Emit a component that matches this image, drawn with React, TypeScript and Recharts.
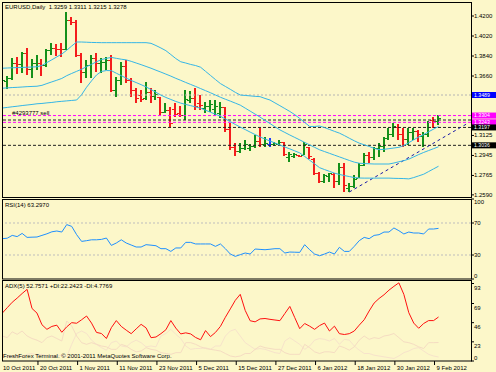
import React from 'react';
import { ComposedChart, Bar, Line, XAxis, YAxis, ReferenceLine } from 'recharts';

// EURUSD daily, 10 Oct 2011 .. 9 Feb 2012
const dates = [
  '10 Oct', '11 Oct', '12 Oct', '13 Oct', '14 Oct', '17 Oct', '18 Oct', '19 Oct', '20 Oct', '21 Oct',
  '24 Oct', '25 Oct', '26 Oct', '27 Oct', '28 Oct', '31 Oct', '1 Nov', '2 Nov', '3 Nov', '4 Nov',
  '7 Nov', '8 Nov', '9 Nov', '10 Nov', '11 Nov', '14 Nov', '15 Nov', '16 Nov', '17 Nov', '18 Nov',
  '21 Nov', '22 Nov', '23 Nov', '24 Nov', '25 Nov', '28 Nov', '29 Nov', '30 Nov', '1 Dec', '2 Dec',
  '5 Dec', '6 Dec', '7 Dec', '8 Dec', '9 Dec', '12 Dec', '13 Dec', '14 Dec', '15 Dec', '16 Dec',
  '19 Dec', '20 Dec', '21 Dec', '22 Dec', '23 Dec', '26 Dec', '27 Dec', '28 Dec', '29 Dec', '30 Dec',
  '2 Jan', '3 Jan', '4 Jan', '5 Jan', '6 Jan', '9 Jan', '10 Jan', '11 Jan', '12 Jan', '13 Jan',
  '16 Jan', '17 Jan', '18 Jan', '19 Jan', '20 Jan', '23 Jan', '24 Jan', '25 Jan', '26 Jan', '27 Jan',
  '30 Jan', '31 Jan', '1 Feb', '2 Feb', '3 Feb', '6 Feb', '7 Feb', '8 Feb', '9 Feb',
];

const axisDates = [
  '10 Oct 2011', '20 Oct 2011', '1 Nov 2011', '11 Nov 2011', '23 Nov 2011', '5 Dec 2011',
  '15 Dec 2011', '27 Dec 2011', '6 Jan 2012', '18 Jan 2012', '30 Jan 2012', '9 Feb 2012',
];

const opens = [
  1.3385, 1.3615, 1.364, 1.3775, 1.3765, 1.387, 1.372, 1.3775, 1.378, 1.376,
  1.389, 1.3915, 1.3905, 1.39, 1.416, 1.415, 1.385, 1.37, 1.376, 1.382,
  1.378, 1.379, 1.38, 1.3535, 1.362, 1.375, 1.362, 1.353, 1.349, 1.346,
  1.352, 1.348, 1.347, 1.334, 1.3355, 1.336, 1.333, 1.331, 1.3445, 1.3465,
  1.342, 1.337, 1.339, 1.336, 1.333, 1.338, 1.318, 1.3025, 1.2985, 1.3015,
  1.301, 1.303, 1.3075, 1.3045, 1.305, 1.3045, 1.305, 1.3065, 1.293, 1.294,
  1.2948, 1.295, 1.302, 1.2915, 1.2785, 1.2715, 1.276, 1.278, 1.2715, 1.284,
  1.265, 1.267, 1.274, 1.2855, 1.2945, 1.293, 1.301, 1.303, 1.31, 1.314,
  1.32, 1.314, 1.309, 1.316, 1.3165, 1.312, 1.314, 1.3265, 1.3259,
];
const highs = [
  1.3684, 1.366, 1.3822, 1.3834, 1.3879, 1.3909, 1.381, 1.3849, 1.381, 1.39,
  1.3954, 1.3945, 1.396, 1.4239, 1.4194, 1.4164, 1.3864, 1.3804, 1.3849, 1.3864,
  1.3819, 1.3829, 1.3849, 1.3648, 1.3789, 1.3804, 1.3639, 1.3549, 1.3534, 1.3609,
  1.3549, 1.3534, 1.3474, 1.3417, 1.3381, 1.3417, 1.339, 1.3534, 1.3528, 1.3549,
  1.3489, 1.3429, 1.3444, 1.3444, 1.3429, 1.3384, 1.3234, 1.3054, 1.3054, 1.3084,
  1.3048, 1.3129, 1.3189, 1.3114, 1.3099, 1.3069, 1.3084, 1.3069, 1.2979, 1.2964,
  1.2949, 1.3069, 1.3024, 1.2919, 1.2799, 1.2778, 1.279, 1.2784, 1.2874, 1.288,
  1.2694, 1.2769, 1.2874, 1.297, 1.2979, 1.3024, 1.3054, 1.3114, 1.3189, 1.3234,
  1.3228, 1.3189, 1.3189, 1.3189, 1.3174, 1.3159, 1.3255, 1.3294, 1.3311,
];
const lows = [
  1.337, 1.3545, 1.3625, 1.3678, 1.369, 1.3669, 1.3645, 1.3714, 1.366, 1.374,
  1.3845, 1.384, 1.383, 1.3894, 1.4119, 1.3834, 1.36, 1.3639, 1.3639, 1.3699,
  1.369, 1.3714, 1.3519, 1.3474, 1.3579, 1.3594, 1.3474, 1.3414, 1.3424, 1.3444,
  1.3414, 1.3444, 1.3309, 1.3327, 1.3201, 1.3291, 1.3294, 1.3264, 1.3414, 1.3354,
  1.3354, 1.3324, 1.3339, 1.3309, 1.3279, 1.3159, 1.2994, 1.294, 1.2964, 1.2994,
  1.2988, 1.3009, 1.3024, 1.3024, 1.3024, 1.303, 1.3039, 1.294, 1.2889, 1.2919,
  1.2934, 1.2949, 1.291, 1.2769, 1.2694, 1.27, 1.2709, 1.2649, 1.2679, 1.2613,
  1.2619, 1.2649, 1.2739, 1.285, 1.2874, 1.2904, 1.2934, 1.2979, 1.3084, 1.3114,
  1.3084, 1.3024, 1.3039, 1.3084, 1.3069, 1.3024, 1.3114, 1.3189, 1.3215,
];
const closes = [
  1.362, 1.364, 1.3775, 1.3765, 1.387, 1.372, 1.3775, 1.378, 1.376, 1.389,
  1.3915, 1.3905, 1.39, 1.416, 1.415, 1.385, 1.37, 1.376, 1.382, 1.378,
  1.379, 1.38, 1.3535, 1.362, 1.375, 1.362, 1.353, 1.346, 1.345, 1.352,
  1.348, 1.35, 1.334, 1.3355, 1.324, 1.332, 1.331, 1.345, 1.3465, 1.339,
  1.34, 1.339, 1.3405, 1.339, 1.3385, 1.318, 1.3025, 1.2985, 1.3015, 1.3045,
  1.303, 1.3075, 1.305, 1.306, 1.305, 1.3055, 1.307, 1.296, 1.2955, 1.2955,
  1.2938, 1.305, 1.294, 1.2785, 1.2715, 1.2765, 1.2785, 1.2715, 1.284, 1.268,
  1.267, 1.273, 1.2855, 1.2945, 1.293, 1.301, 1.303, 1.31, 1.314, 1.321,
  1.314, 1.309, 1.316, 1.3165, 1.314, 1.314, 1.325, 1.3255, 1.3278,
];

// bands drawn over the price
const bandUpper = [
  1.373, 1.3732, 1.3734, 1.3736, 1.3737, 1.3739, 1.3741, 1.3743, 1.3755, 1.3781,
  1.3806, 1.3832, 1.3858, 1.3892, 1.393, 1.3966, 1.3966, 1.3964, 1.3962, 1.3961,
  1.396, 1.396, 1.396, 1.396, 1.396, 1.396, 1.396, 1.396, 1.396, 1.396,
  1.3954, 1.3934, 1.3912, 1.3888, 1.3853, 1.3817, 1.3788, 1.3777, 1.3764, 1.3754,
  1.3739, 1.3702, 1.3665, 1.3628, 1.3592, 1.3566, 1.354, 1.3513, 1.3489, 1.3485,
  1.3481, 1.3477, 1.3474, 1.3458, 1.3444, 1.3418, 1.3393, 1.3367, 1.3341, 1.3312,
  1.3278, 1.3242, 1.3206, 1.3206, 1.321, 1.3196, 1.3179, 1.3162, 1.3146, 1.3124,
  1.31, 1.3077, 1.3056, 1.3041, 1.3026, 1.3009, 1.2997, 1.3, 1.3006, 1.3012,
  1.3018, 1.3034, 1.306, 1.3086, 1.3111, 1.3133, 1.3158, 1.3182, 1.3206,
];
const bandMiddle = [
  1.355, 1.3553, 1.3556, 1.3558, 1.3561, 1.3564, 1.3566, 1.3568, 1.3576, 1.3592,
  1.3607, 1.3622, 1.3638, 1.3663, 1.3683, 1.3702, 1.3721, 1.3744, 1.3765, 1.3788,
  1.3808, 1.3819, 1.3827, 1.3819, 1.3811, 1.3805, 1.3792, 1.3777, 1.3762, 1.3746,
  1.373, 1.3712, 1.3695, 1.3677, 1.3659, 1.3639, 1.3621, 1.3602, 1.3584, 1.3566,
  1.3547, 1.3528, 1.3509, 1.3489, 1.3469, 1.3451, 1.3434, 1.3416, 1.3398, 1.3371,
  1.3344, 1.3317, 1.329, 1.3261, 1.3232, 1.3203, 1.3175, 1.3152, 1.3129, 1.3107,
  1.3085, 1.3062, 1.304, 1.3018, 1.2996, 1.298, 1.2964, 1.2948, 1.2932, 1.2916,
  1.29, 1.2885, 1.2875, 1.2872, 1.287, 1.2868, 1.2868, 1.2868, 1.2868, 1.2877,
  1.2888, 1.2898, 1.2912, 1.2932, 1.2953, 1.2972, 1.2989, 1.3006, 1.3023,
];
const bandLower = [
  1.3372, 1.3377, 1.3383, 1.3388, 1.3394, 1.3399, 1.3404, 1.341, 1.3413, 1.3418,
  1.3422, 1.3428, 1.3432, 1.3436, 1.344, 1.3444, 1.3492, 1.3559, 1.3616, 1.3669,
  1.3701, 1.3709, 1.3708, 1.3685, 1.3663, 1.3641, 1.362, 1.3601, 1.3582, 1.3562,
  1.3538, 1.3513, 1.3488, 1.3467, 1.3449, 1.3431, 1.3416, 1.3404, 1.3393, 1.3382,
  1.337, 1.3352, 1.3334, 1.3316, 1.3298, 1.3273, 1.3249, 1.3224, 1.32, 1.3178,
  1.3155, 1.3133, 1.3111, 1.3093, 1.3075, 1.3057, 1.3039, 1.3021, 1.3004, 1.2986,
  1.2968, 1.2936, 1.2902, 1.2869, 1.2835, 1.2818, 1.2802, 1.2786, 1.2774, 1.2764,
  1.2755, 1.2746, 1.2742, 1.2741, 1.2741, 1.2741, 1.2741, 1.2741, 1.2741, 1.2739,
  1.2738, 1.2737, 1.2734, 1.2746, 1.2761, 1.2776, 1.28, 1.2824, 1.2848,
];

const rsi = [
  50.4, 51, 54.5, 53, 57, 52, 52.3, 52.5, 54.5, 56.5,
  59, 60, 58.7, 68, 65.8, 55.4, 47, 47.9, 49, 49,
  49.5, 51.2, 42, 45, 49, 45, 42.5, 40, 40, 42.9,
  42.3, 41.6, 37.9, 37.9, 34.5, 38.8, 38.8, 45.8, 45.8, 43.8,
  43.8, 43.8, 43.8, 40.8, 43.8, 37.9, 31.2, 28.3, 30.4, 32.5,
  31.2, 37.5, 37, 36.6, 37.2, 37.9, 37.9, 32.5, 33.7, 33.5,
  33.3, 42.9, 36.6, 31.2, 29.1, 31.2, 33.7, 31.2, 39.6, 34.5,
  34.5, 40.8, 47.9, 52, 50.4, 54.5, 55.4, 58.7, 58.7, 63.8,
  60.4, 56.3, 58.7, 57.5, 57.5, 56.3, 62.5, 62.5, 63.3,
];

const adx = [
  57.5, 64, 70.5, 75.5, 81, 86, 63, 57.5, 43.5, 38,
  41.5, 43, 34.5, 41, 46, 45.3, 49.5, 54, 45.5, 34.3,
  33, 27, 40, 48.5, 41.5, 37, 32.8, 38.5, 44, 39.8,
  28, 28.8, 32.8, 37.5, 48.5, 39.5, 32.5, 33.8, 32.5, 28.2,
  25.5, 36.5, 29.3, 34.3, 41.5, 52.5, 62.5, 72.8, 80, 60.7,
  48.3, 47, 50.5, 51, 50, 49.2, 48.4, 57, 65.5, 52,
  38.8, 45, 41.8, 38, 42.5, 45.5, 36, 41.8, 32.8, 31.8,
  32.8, 36, 43, 49.5, 60, 69.5, 75, 79.5, 85, 89.6,
  93.8, 80, 58, 45.5, 39.3, 45, 48.5, 48.5, 52.8,
];
const plusDi = [
  30, 28, 35, 32, 36, 30, 27, 25, 22, 28,
  30, 27, 24, 48, 42, 30, 22, 20, 22, 20,
  18, 17, 14, 14, 20, 18, 14, 11, 12, 16,
  14, 13, 10, 9, 8, 10, 10, 22, 22, 20,
  17, 15, 14, 13, 12, 9, 6, 5, 6, 9,
  9, 14, 18, 16, 15, 14, 14, 10, 8, 8,
  8, 20, 16, 11, 9, 11, 11, 10, 18, 16,
  13, 17, 25, 30, 26, 28, 27, 30, 31, 33,
  28, 23, 22, 20, 17, 15, 22, 22, 22.2,
];
const minusDi = [
  6, 5, 5, 6, 5, 8, 9, 7, 8, 6,
  5, 6, 7, 5, 20, 33, 36, 33, 25, 20,
  16, 13, 22, 24, 18, 17, 22, 25, 22, 17,
  18, 17, 30, 33, 38, 32, 27, 18, 14, 15,
  15, 16, 14, 18, 18, 30, 36, 38, 30, 22,
  18, 14, 15, 14, 12, 10, 9, 24, 28, 24,
  20, 14, 18, 25, 27, 26, 24, 27, 20, 26,
  25, 18, 13, 9, 9, 7, 6, 5, 4, 3,
  6, 10, 12, 15, 16, 12, 8, 6, 4.8,
];

const priceTicks = [1.42, 1.402, 1.384, 1.366, 1.3125, 1.2945, 1.2765, 1.259];
const rsiTicks = [0, 30, 70, 100];
const adxTicks = [0, 23, 46, 69, 93];

// horizontal levels (alert, order lines, stops); the 1.3264 tag sits under the others
const levelPrices = [1.3489, 1.3304, 1.3264, 1.3243, 1.3197, 1.3036];
const levelKinds = ['alert', 'order', 'stopHidden', 'order', 'stop', 'stop'];
const trendLine = [
  { i: 70, price: 1.2616 },
  { i: 94, price: 1.3237 },
];

const rows = dates.map((d, i) => ({
  i,
  date: d,
  open: opens[i],
  high: highs[i],
  low: lows[i],
  close: closes[i],
  range: [lows[i], highs[i]],
  upper: bandUpper[i],
  middle: bandMiddle[i],
  lower: bandLower[i],
  rsi: rsi[i],
  adx: adx[i],
  plusDi: plusDi[i],
  minusDi: minusDi[i],
}));

const FONT = '"Liberation Sans", Arial, sans-serif';
const BG = '#fcf7c9';
const X_DOMAIN: [number, number] = [-0.06, 94.55];
const BAND = '#35b6e6';

const levelStyle: Record<string, { stroke: string; dash: string; box: string | null }> = {
  alert: { stroke: '#b4b4b4', dash: '2 2', box: '#0000ff' },
  order: { stroke: '#ff00ff', dash: '3 2', box: '#ff00ff' },
  stop: { stroke: '#222', dash: '3 2', box: '#000' },
  stopHidden: { stroke: '#222', dash: '3 2', box: null },
};

const OhlcBar = (props: any) => {
  const { x, y, width, height, payload } = props;
  if (x == null || y == null) return null;
  const top = Math.min(y, y + height);
  const h = Math.abs(height);
  const { open, high, low, close } = payload;
  const span = high - low || 1;
  const yOf = (v: number) => top + ((high - v) / span) * h;
  const cx = Math.round(x + width / 2);
  const color = close > open ? '#14901a' : close < open ? '#f41c1c' : '#1f3cff';
  return (
    <g shapeRendering="crispEdges">
      <rect x={cx - 1} y={top} width={2} height={Math.max(h, 1)} fill={color} />
      <rect x={cx - 3} y={Math.round(yOf(open)) - 0.5} width={2} height={1.5} fill={color} />
      <rect x={cx + 1} y={Math.round(yOf(close)) - 0.5} width={2} height={1.5} fill={color} />
    </g>
  );
};

const makeTick = (digits: number, top: number, bottom: number, shift = 0) => (props: any) => {
  const { x, y, payload } = props;
  const ty = Math.min(Math.max(y + shift, top + 3), bottom - 3);
  return (
    <text x={x} y={ty + 2} fontSize={6} fontFamily={FONT} fill="#000" textAnchor="start">
      {Number(payload.value).toFixed(digits)}
    </text>
  );
};

const DateTick = (props: any) => {
  const { x, y, payload } = props;
  const label = axisDates[Math.round(payload.value / 8)] ?? '';
  return (
    <g>
      <line x1={x - 4} x2={x - 4} y1={y} y2={y + 4} stroke="#000" />
      <text x={Math.max(x - 2, 3)} y={y + 8.5} fontSize={6} fontFamily={FONT} fill="#000">
        {label}
      </text>
    </g>
  );
};

const boxLabel = (text: string, fill: string) => (props: any) => {
  const vb = props.viewBox || {};
  const bx = vb.x + vb.width + 1;
  return (
    <g>
      <rect x={bx} y={vb.y - 3} width={24} height={6} fill={fill} />
      <text x={bx + 2} y={vb.y + 1.8} fontSize={5.2} fontFamily={FONT} fill="#fff">
        {text}
      </text>
    </g>
  );
};

export default function App() {
  const dateTicks = axisDates.map((_, k) => k * 8);
  const last = rows[rows.length - 1];
  const title = `EURUSD,Daily  ${last.open.toFixed(4)} ${last.high.toFixed(4)} ${last.low.toFixed(4)} ${last.close.toFixed(4)}`;

  return (
    <div style={{ position: 'relative', width: 496, height: 372, background: BG, overflow: 'hidden' }}>
      <style>{'body{margin:0}'}</style>

      {/* price panel */}
      <div style={{ position: 'absolute', left: 0, top: 0 }}>
        <ComposedChart width={496} height={200} data={rows} margin={{ top: 2, right: 0, bottom: 2, left: 2 }}>
          <XAxis dataKey="i" type="number" domain={X_DOMAIN} hide allowDataOverflow />
          <YAxis
            orientation="right"
            width={25}
            domain={[1.2562, 1.4326]}
            ticks={priceTicks}
            interval={0}
            allowDataOverflow
            axisLine={false}
            tickSize={3}
            tickMargin={0}
            tickLine={{ stroke: '#000' }}
            tick={makeTick(4, 2, 198)}
          />
          {levelPrices.map((p, k) => {
            const s = levelStyle[levelKinds[k]];
            return (
              <ReferenceLine
                key={p}
                y={p}
                stroke={s.stroke}
                strokeDasharray={s.dash}
                label={s.box ? boxLabel(p.toFixed(4), s.box) : undefined}
              />
            );
          })}
          <ReferenceLine
            segment={trendLine.map((t) => ({ x: t.i, y: t.price }))}
            stroke="#1a1aa8"
            strokeDasharray="3 3"
          />
          <Line dataKey="upper" stroke={BAND} strokeWidth={1} dot={false} isAnimationActive={false} />
          <Line dataKey="middle" stroke={BAND} strokeWidth={1} dot={false} isAnimationActive={false} />
          <Line dataKey="lower" stroke={BAND} strokeWidth={1} dot={false} isAnimationActive={false} />
          <Bar dataKey="range" barSize={4} shape={OhlcBar} isAnimationActive={false} />
        </ComposedChart>
      </div>

      {/* RSI panel */}
      <div style={{ position: 'absolute', left: 0, top: 198 }}>
        <ComposedChart width={496} height={82} data={rows} margin={{ top: 1, right: 0, bottom: 1, left: 2 }}>
          <XAxis dataKey="i" type="number" domain={X_DOMAIN} hide allowDataOverflow />
          <YAxis
            orientation="right"
            width={25}
            domain={[0, 100]}
            ticks={rsiTicks}
            interval={0}
            axisLine={false}
            tickSize={3}
            tickMargin={0}
            tickLine={{ stroke: '#000' }}
            tick={makeTick(0, 1, 81)}
          />
          <ReferenceLine y={70} stroke="#bdbdbd" strokeDasharray="2 2" />
          <ReferenceLine y={30} stroke="#bdbdbd" strokeDasharray="2 2" />
          <Line dataKey="rsi" stroke="#1e90ff" strokeWidth={1} dot={false} isAnimationActive={false} />
        </ComposedChart>
      </div>

      {/* ADX panel with date axis */}
      <div style={{ position: 'absolute', left: 0, top: 280 }}>
        <ComposedChart width={496} height={92} data={rows} margin={{ top: 1, right: 0, bottom: 0, left: 2 }}>
          <XAxis
            dataKey="i"
            type="number"
            domain={X_DOMAIN}
            allowDataOverflow
            ticks={dateTicks}
            interval={0}
            height={11}
            axisLine={false}
            tickLine={false}
            tickSize={0}
            tickMargin={0}
            tick={DateTick}
          />
          <YAxis
            orientation="right"
            width={25}
            domain={[0, 96]}
            ticks={adxTicks}
            interval={0}
            allowDataOverflow
            axisLine={false}
            tickSize={3}
            tickMargin={0}
            tickLine={{ stroke: '#000' }}
            tick={makeTick(0, 1, 81, 4)}
          />
          <Line dataKey="minusDi" stroke="#f7e3cb" strokeWidth={1} dot={false} isAnimationActive={false} />
          <Line dataKey="plusDi" stroke="#f5dcc2" strokeWidth={1} dot={false} isAnimationActive={false} />
          <Line dataKey="adx" stroke="#ff1010" strokeWidth={1} dot={false} isAnimationActive={false} />
        </ComposedChart>
      </div>

      {/* frames and captions */}
      <svg
        width={496}
        height={372}
        style={{ position: 'absolute', left: 0, top: 0, pointerEvents: 'none' }}
        fontFamily={FONT}
        fontSize={6}
      >
        <rect x={2.5} y={2.5} width={469} height={195} fill="none" stroke="#000" />
        <rect x={2.5} y={199.5} width={469} height={79.5} fill="none" stroke="#000" />
        <rect x={2.5} y={280.5} width={469} height={80.5} fill="none" stroke="#000" />
        <text x={5} y={8.7} style={{ whiteSpace: 'pre' }}>{title}</text>
        <text x={12} y={114.5}>#4293777 sell</text>
        <text x={5} y={206.5}>RSI(14) 63.2970</text>
        <text x={5} y={288.3}>ADX(5) 52.7571 +DI:22.2423 -DI:4.7769</text>
        <text x={3} y={358}>FreshForex Terminal. © 2001-2011 MetaQuotes Software Corp.</text>
      </svg>
    </div>
  );
}
